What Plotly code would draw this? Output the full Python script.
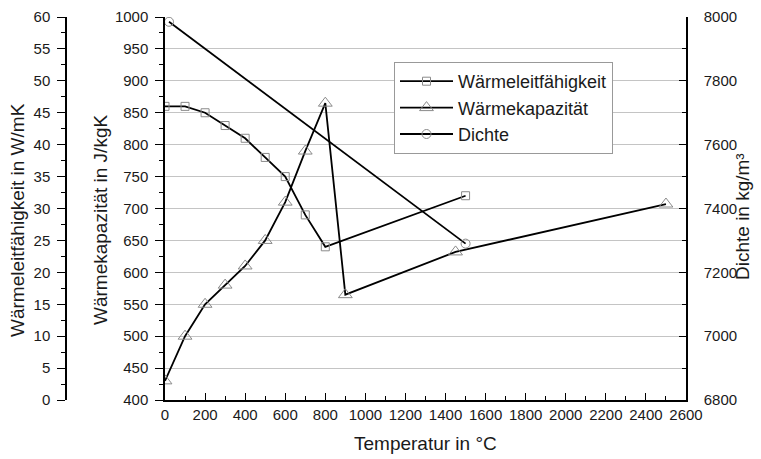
import plotly.graph_objects as go

# ---- data ----
temp_leit = [0, 100, 200, 300, 400, 500, 600, 700, 800, 1500]
waermeleit = [46, 46, 45, 43, 41, 38, 35, 29, 24, 32]

temp_kap = [0, 100, 200, 300, 400, 500, 600, 700, 800, 900, 1450, 2500]
waermekap = [430, 500, 550, 580, 610, 650, 710, 790, 865, 565, 632, 707]

temp_dichte = [20, 1500]
dichte = [7985, 7290]

x_ticks = list(range(0, 2601, 200))

W, H = 761, 459
ML, MR, MT, MB = 0, 0, 17, 59
FONT = "Liberation Sans, Arial, sans-serif"
TXT = "#1a1a1a"
MK = "#8a8a8a"

def px(p):
    return p / W

def py(p):
    return (H - MB - p) / (H - MT - MB)

fig = go.Figure()
fig.add_trace(go.Scatter(
    x=temp_leit, y=waermeleit, name="Wärmeleitfähigkeit", yaxis="y2",
    mode="lines+markers", line=dict(color="black", width=1.8),
    marker=dict(symbol="square-open", size=8, color=MK, line=dict(width=1))))
fig.add_trace(go.Scatter(
    x=temp_kap, y=waermekap, name="Wärmekapazität", yaxis="y",
    mode="lines+markers", line=dict(color="black", width=1.8),
    marker=dict(symbol="triangle-up-open", size=12, color=MK, line=dict(width=1))))
fig.add_trace(go.Scatter(
    x=temp_dichte, y=dichte, name="Dichte", yaxis="y3",
    mode="lines+markers", line=dict(color="black", width=1.8),
    marker=dict(symbol="circle-open", size=9, color=MK, line=dict(width=1))))

tickfont = dict(family=FONT, size=15, color=TXT)

fig.update_layout(
    width=W, height=H,
    margin=dict(l=ML, r=MR, t=MT, b=MB, pad=0),
    paper_bgcolor="white", plot_bgcolor="white",
    font=dict(family=FONT, color=TXT),
    xaxis=dict(
        domain=[px(165), px(686)], range=[0, 2600], tickvals=x_ticks,
        ticks="inside", ticklen=7, tickwidth=1.3, tickcolor="black",
        minor=dict(dtick=100, ticks="inside", ticklen=4, tickcolor="black", showgrid=False),
        showline=True, linecolor="black", linewidth=1.5, showgrid=False, zeroline=False,
        tickfont=tickfont, automargin=False),
    yaxis=dict(
        range=[400, 1000], dtick=50, anchor="x",
        ticks="outside", ticklen=8, tickwidth=1.3, tickcolor="black",
        minor=dict(dtick=25, ticks="outside", ticklen=4, tickcolor="black", showgrid=False),
        showline=True, linecolor="black", linewidth=1.5,
        showgrid=True, gridcolor="#c4c4c4", gridwidth=1, zeroline=False,
        tickfont=tickfont, automargin=False, ticklabelstandoff=4),
    yaxis2=dict(
        range=[0, 60], dtick=5, overlaying="y", anchor="free", position=px(66), side="left",
        ticks="outside", ticklen=8, tickwidth=1.3, tickcolor="black",
        minor=dict(dtick=2.5, ticks="outside", ticklen=4, tickcolor="black", showgrid=False),
        showline=True, linecolor="black", linewidth=1.5, showgrid=False, zeroline=False,
        tickfont=tickfont, automargin=False, ticklabelstandoff=4),
    yaxis3=dict(
        range=[6800, 8000], dtick=200, overlaying="y", anchor="x", side="right",
        ticks="inside", ticklen=7, tickwidth=1.3, tickcolor="black",
        minor=dict(dtick=100, ticks="inside", ticklen=4, tickcolor="black", showgrid=False),
        showline=True, linecolor="black", linewidth=1.5, showgrid=False, zeroline=False,
        tickfont=tickfont, automargin=False, ticklabelstandoff=13),
    legend=dict(
        x=px(394), y=py(62), xanchor="left", yanchor="top",
        bgcolor="white", bordercolor="#999999", borderwidth=1,
        font=dict(family=FONT, size=18, color=TXT), tracegroupgap=0,
        itemwidth=53),
    showlegend=True,
)

title_font = dict(family=FONT, size=19, color=TXT)
fig.add_annotation(text="Wärmeleitfähigkeit in W/mK", xref="paper", yref="paper",
                   x=px(17), y=py(220), textangle=-90, showarrow=False,
                   font=title_font, xanchor="center", yanchor="middle")
fig.add_annotation(text="Wärmekapazität in J/kgK", xref="paper", yref="paper",
                   x=px(100), y=py(220), textangle=-90, showarrow=False,
                   font=title_font, xanchor="center", yanchor="middle")
fig.add_annotation(text="Dichte in kg/m³", xref="paper", yref="paper",
                   x=px(743), y=py(217), textangle=-90, showarrow=False,
                   font=title_font, xanchor="center", yanchor="middle")
fig.add_annotation(text="Temperatur in °C", xref="paper", yref="paper",
                   x=px(425.5), y=py(443), showarrow=False,
                   font=title_font, xanchor="center", yanchor="middle")

fig.write_html("out.html",
               config={"displayModeBar": False},
               post_script="document.body.style.margin='0px';document.body.style.overflow='hidden';")
